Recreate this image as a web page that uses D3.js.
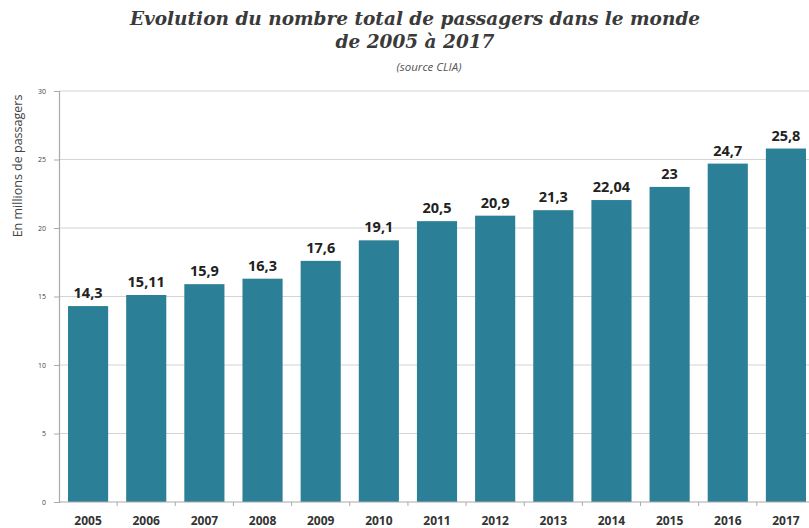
<!DOCTYPE html>
<html><head><meta charset="utf-8">
<script src="https://cdn.jsdelivr.net/npm/d3@7"></script>
<style>body{margin:0;background:#fff}svg{display:block}</style>
</head><body>
<svg id="c" width="809" height="528"></svg>
<script>
const years = ["2005","2006","2007","2008","2009","2010","2011","2012","2013","2014","2015","2016","2017"];
const passengers = [14.3,15.11,15.9,16.3,17.6,19.1,20.5,20.9,21.3,22.04,23,24.7,25.8];
const valueLabels = ["14,3","15,11","15,9","16,3","17,6","19,1","20,5","20,9","21,3","22,04","23","24,7","25,8"];
const yTicks = [0,5,10,15,20,25,30];

const svg = d3.select("#c");
const x = d3.scaleBand().domain(years).range([59, 815]).paddingInner(0.31).paddingOuter(0.155);
const y = d3.scaleLinear().domain([0,30]).range([502, 91]);

// gridlines
svg.append("g").selectAll("line").data(yTicks.filter(d=>d>0)).join("line")
  .attr("x1",59).attr("x2",809).attr("y1",d=>y(d)).attr("y2",d=>y(d))
  .attr("stroke","#d4d4d4").attr("stroke-width",1.2);

// bars
svg.append("g").selectAll("rect").data(years).join("rect")
  .attr("x",d=>x(d)).attr("width",x.bandwidth())
  .attr("y",(d,i)=>y(passengers[i])).attr("height",(d,i)=>y(0)-y(passengers[i]))
  .attr("fill","#2b7f96");

// value labels
svg.append("g").selectAll("text").data(years).join("text")
  .attr("x",d=>x(d)+x.bandwidth()/2).attr("y",(d,i)=>y(passengers[i])-8)
  .attr("text-anchor","middle").attr("font-family","'Open Sans', sans-serif")
  .attr("font-weight","bold").attr("font-size",14.5).attr("fill","#222")
  .text((d,i)=>valueLabels[i]);

// y axis
const ya = svg.append("g").attr("transform","translate(59,0)")
  .call(d3.axisLeft(y).tickValues(yTicks).tickSize(5).tickPadding(8));
ya.select(".domain").attr("stroke","#aaa").attr("stroke-width",1.2);
ya.selectAll(".tick line").attr("stroke","#aaa");
ya.selectAll("text").attr("font-family","'Open Sans', sans-serif").attr("font-size",7).attr("fill","#444");

// x axis
const xa = svg.append("g").attr("transform","translate(0,502)")
  .call(d3.axisBottom(x).tickSize(0).tickPadding(14));
xa.select(".domain").attr("stroke","#aaa").attr("stroke-width",1.2).attr("d","M59,0H809");
xa.selectAll("text").attr("font-family","'Open Sans', sans-serif").attr("font-weight","bold")
  .attr("font-size",12).attr("fill","#333");
// small separator ticks between categories
svg.append("g").selectAll("line").data(years.slice(1)).join("line")
  .attr("x1",d=>x(d)-x.step()*x.paddingInner()/2).attr("x2",d=>x(d)-x.step()*x.paddingInner()/2)
  .attr("y1",502).attr("y2",506).attr("stroke","#aaa");

// y label
svg.append("text").attr("transform","translate(22,166) rotate(-90)")
  .attr("text-anchor","middle").attr("font-family","'Open Sans', sans-serif")
  .attr("font-size",12.5).attr("fill","#444").text("En millions de passagers");

// title
const t = svg.append("g").attr("font-family","'DejaVu Serif', serif").attr("font-style","italic")
  .attr("font-weight","bold").attr("fill","#3a3a3a").attr("text-anchor","middle");
t.append("text").attr("x",415).attr("y",25).attr("font-size",18.5).text("Evolution du nombre total de passagers dans le monde");
t.append("text").attr("x",415).attr("y",48).attr("font-size",18.5).text("de 2005 à 2017");
svg.append("text").attr("x",429).attr("y",71).attr("text-anchor","middle")
  .attr("font-family","'Open Sans', sans-serif").attr("font-style","italic")
  .attr("font-size",11.5).attr("fill","#555").text("(source CLIA)");
</script>
</body></html>
